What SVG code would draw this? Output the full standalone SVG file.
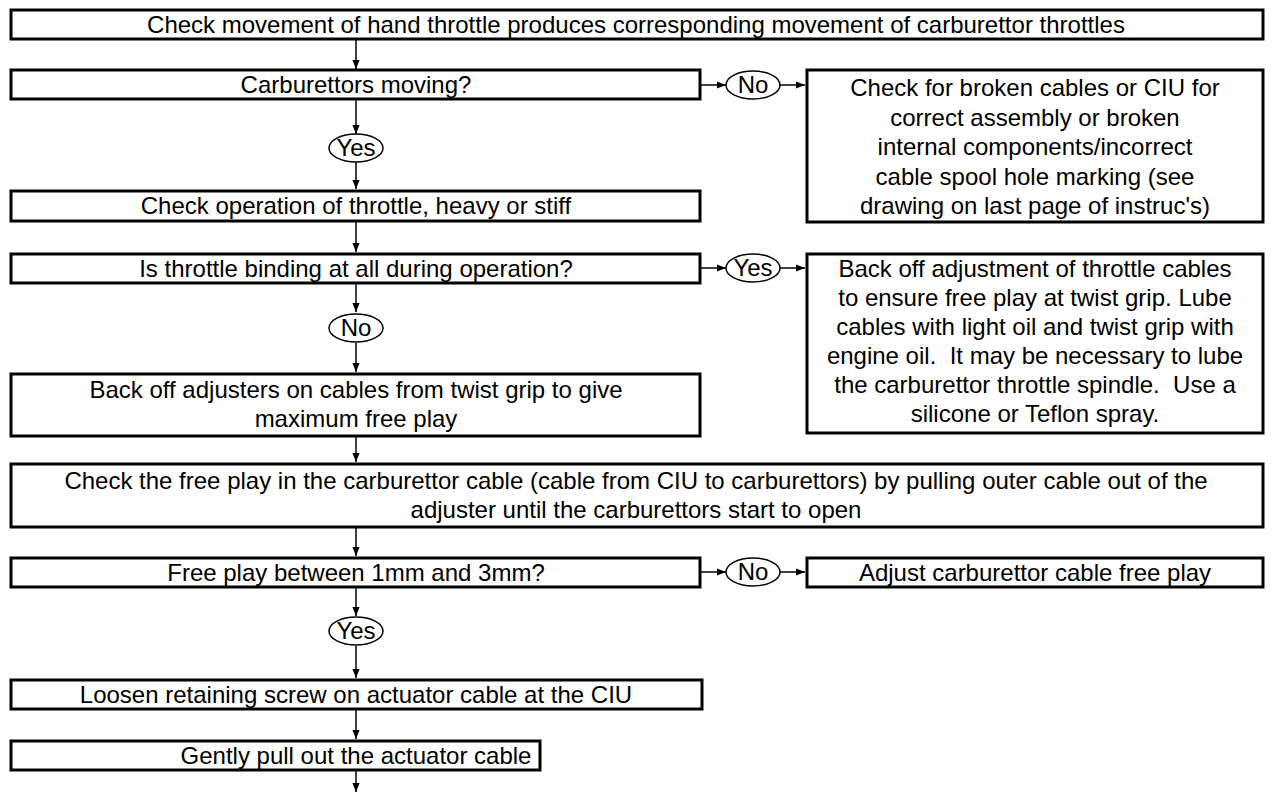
<svg xmlns="http://www.w3.org/2000/svg" width="1272" height="793" viewBox="0 0 1272 793">
<defs>
<style>
.box{fill:#fff;stroke:#000;stroke-width:3}
.ell{fill:#fff;stroke:#000;stroke-width:1.5}
.t{font-family:"Liberation Sans",Arial,sans-serif;font-size:24px;fill:#000;text-anchor:middle;white-space:pre}
.c{fill:none;stroke:#000;stroke-width:1.5;marker-end:url(#ah)}
</style>
<marker id="ah" viewBox="0 0 10 10" refX="10" refY="5" markerWidth="9" markerHeight="9" markerUnits="userSpaceOnUse" orient="auto">
<path d="M0,1 L10,5 L0,9 Z" fill="#000"/>
</marker>
</defs>
<rect width="1272" height="793" fill="#fff"/>
<g id="connectors">
<line class="c" x1="356" y1="40" x2="356" y2="69"/>
<line class="c" x1="356" y1="100" x2="356" y2="134"/>
<line class="c" x1="356" y1="162" x2="356" y2="189"/>
<line class="c" x1="356" y1="222" x2="356" y2="252"/>
<line class="c" x1="356" y1="284" x2="356" y2="312"/>
<line class="c" x1="356" y1="343" x2="356" y2="372"/>
<line class="c" x1="356" y1="437" x2="356" y2="462"/>
<line class="c" x1="356" y1="528" x2="356" y2="556"/>
<line class="c" x1="356" y1="588" x2="356" y2="616"/>
<line class="c" x1="356" y1="646" x2="356" y2="678"/>
<line class="c" x1="356" y1="710" x2="356" y2="739"/>
<line class="c" x1="356" y1="771" x2="356" y2="792"/>
<line class="c" x1="701" y1="85" x2="726" y2="85"/>
<line class="c" x1="780" y1="85" x2="805" y2="85"/>
<line class="c" x1="701" y1="268" x2="726" y2="268"/>
<line class="c" x1="780" y1="268" x2="805" y2="268"/>
<line class="c" x1="701" y1="572" x2="726" y2="572"/>
<line class="c" x1="780" y1="572" x2="805" y2="572"/>
</g>
<g id="n1"><rect class="box" x="11" y="10" width="1252" height="29"/><text class="t" x="636" y="33">Check movement of hand throttle produces corresponding movement of carburettor throttles</text></g>
<g id="n2"><rect class="box" x="11" y="70" width="689" height="29"/><text class="t" x="356" y="93">Carburettors moving?</text></g>
<g id="e1"><ellipse class="ell" cx="753" cy="85" rx="27" ry="14"/><text class="t" x="753" y="93">No</text></g>
<g id="n3"><rect class="box" x="807" y="70" width="456" height="152"/>
<text class="t" x="1035" y="96">Check for broken cables or CIU for</text>
<text class="t" x="1035" y="125.5">correct assembly or broken</text>
<text class="t" x="1035" y="155">internal components/incorrect</text>
<text class="t" x="1035" y="184.5">cable spool hole marking (see</text>
<text class="t" x="1035" y="214">drawing on last page of instruc's)</text></g>
<g id="e2"><ellipse class="ell" cx="356" cy="148" rx="27" ry="14"/><text class="t" x="356" y="156">Yes</text></g>
<g id="n4"><rect class="box" x="11" y="191" width="689" height="30"/><text class="t" x="356" y="214">Check operation of throttle, heavy or stiff</text></g>
<g id="n5"><rect class="box" x="11" y="254" width="689" height="29"/><text class="t" x="356" y="277">Is throttle binding at all during operation?</text></g>
<g id="e3"><ellipse class="ell" cx="753" cy="268" rx="27" ry="14"/><text class="t" x="753" y="276">Yes</text></g>
<g id="n6"><rect class="box" x="807" y="254" width="456" height="179"/>
<text class="t" x="1035" y="277">Back off adjustment of throttle cables</text>
<text class="t" x="1035" y="306">to ensure free play at twist grip. Lube</text>
<text class="t" x="1035" y="335">cables with light oil and twist grip with</text>
<text class="t" x="1035" y="364">engine oil.  It may be necessary to lube</text>
<text class="t" x="1035" y="393">the carburettor throttle spindle.  Use a</text>
<text class="t" x="1035" y="422">silicone or Teflon spray.</text></g>
<g id="e4"><ellipse class="ell" cx="356" cy="328" rx="27" ry="14"/><text class="t" x="356" y="336">No</text></g>
<g id="n7"><rect class="box" x="11" y="374" width="689" height="62"/>
<text class="t" x="356" y="398">Back off adjusters on cables from twist grip to give</text>
<text class="t" x="356" y="427">maximum free play</text></g>
<g id="n8"><rect class="box" x="11" y="464" width="1252" height="63"/>
<text class="t" x="636" y="489">Check the free play in the carburettor cable (cable from CIU to carburettors) by pulling outer cable out of the</text>
<text class="t" x="636" y="518">adjuster until the carburettors start to open</text></g>
<g id="n9"><rect class="box" x="11" y="558" width="689" height="29"/><text class="t" x="356" y="581">Free play between 1mm and 3mm?</text></g>
<g id="e5"><ellipse class="ell" cx="753" cy="572" rx="27" ry="14"/><text class="t" x="753" y="580">No</text></g>
<g id="n10"><rect class="box" x="807" y="558" width="456" height="29"/><text class="t" x="1035" y="581">Adjust carburettor cable free play</text></g>
<g id="e6"><ellipse class="ell" cx="356" cy="631" rx="27" ry="14"/><text class="t" x="356" y="639">Yes</text></g>
<g id="n11"><rect class="box" x="11" y="680" width="691" height="29"/><text class="t" x="356" y="703">Loosen retaining screw on actuator cable at the CIU</text></g>
<g id="n12"><rect class="box" x="11" y="741" width="529" height="29"/><text class="t" x="356" y="764">Gently pull out the actuator cable</text></g>
</svg>
